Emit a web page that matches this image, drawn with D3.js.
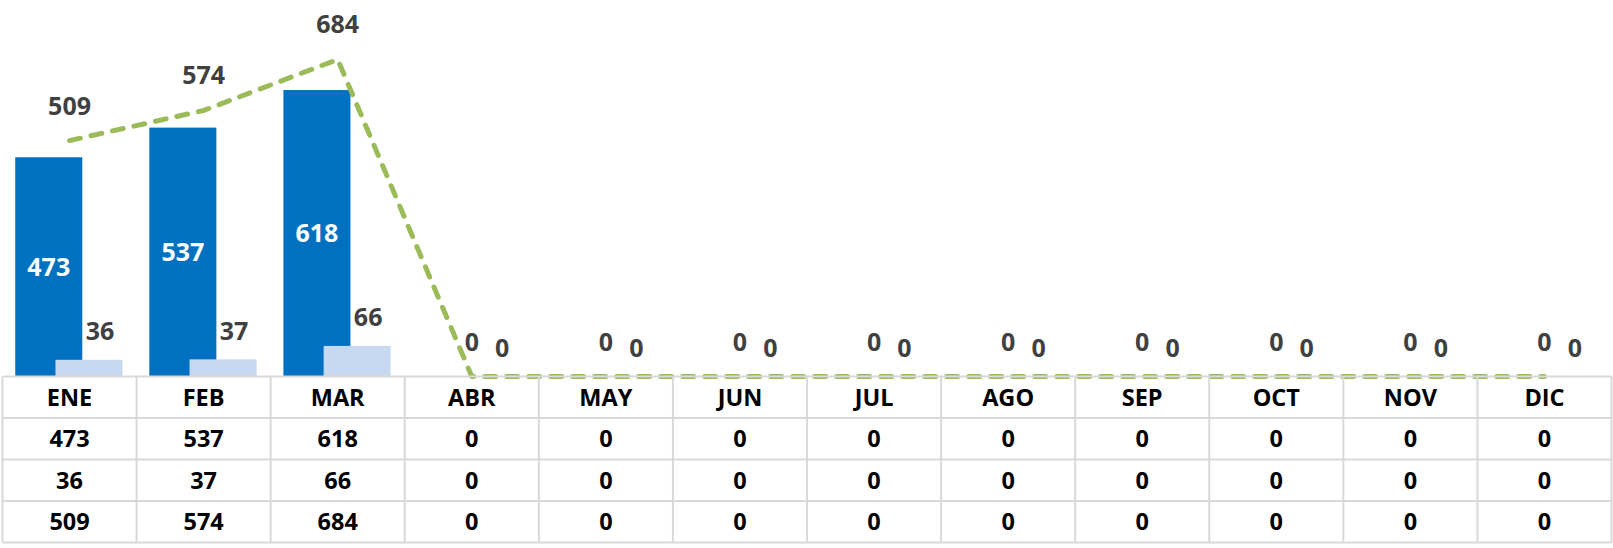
<!DOCTYPE html>
<html>
<head>
<meta charset="utf-8">
<script src="https://cdn.jsdelivr.net/npm/d3@7"></script>
<style>
  html, body { margin: 0; padding: 0; background: #fff; }
  svg { display: block; font-family: "Open Sans", Lato, sans-serif; font-weight: bold; }
</style>
</head>
<body>
<svg id="chart" width="1613" height="548"></svg>
<script>
const months = ["ENE","FEB","MAR","ABR","MAY","JUN","JUL","AGO","SEP","OCT","NOV","DIC"];
const seriesA = [473, 537, 618, 0, 0, 0, 0, 0, 0, 0, 0, 0];
const seriesB = [36, 37, 66, 0, 0, 0, 0, 0, 0, 0, 0, 0];
const totals  = [509, 574, 684, 0, 0, 0, 0, 0, 0, 0, 0, 0];

const svg = d3.select("#chart");
const baseY = 376.5;
const x = d3.scaleBand().domain(months).range([2.5, 1611.5]).padding(0);
const y = d3.scaleLinear().domain([0, 800]).range([baseY, baseY - 800 * 0.4635]);
const bw = x.bandwidth();

const colA = "#0070C0", colB = "#C6D9F0", colLine = "#9BBB59", labCol = "#404040";

// Bars series A
svg.append("g").selectAll("rect").data(months).join("rect")
  .attr("x", (d) => x(d) + bw * 0.095)
  .attr("width", bw * 0.5)
  .attr("y", (d, i) => y(seriesA[i]))
  .attr("height", (d, i) => baseY - y(seriesA[i]))
  .attr("fill", colA);

// Bars series B
svg.append("g").selectAll("rect").data(months).join("rect")
  .attr("x", (d) => x(d) + bw * 0.395)
  .attr("width", bw * 0.5)
  .attr("y", (d, i) => y(seriesB[i]))
  .attr("height", (d, i) => baseY - y(seriesB[i]))
  .attr("fill", colB);

// Line
const line = d3.line().x((d, i) => x(months[i]) + bw / 2).y((d) => y(d));
svg.append("path").datum(totals)
  .attr("d", line)
  .attr("fill", "none")
  .attr("stroke", colLine)
  .attr("stroke-width", 5)
  .attr("stroke-dasharray", "11,11")
  .attr("stroke-linecap", "round")
  .attr("stroke-linejoin", "round");

// Labels inside A bars (white)
svg.append("g").selectAll("text").data(months.filter((d, i) => seriesA[i] > 0)).join("text")
  .attr("x", (d) => x(d) + bw * 0.095 + bw * 0.25)
  .attr("y", (d) => { const i = months.indexOf(d); return (y(seriesA[i]) + baseY) / 2 + 9; })
  .attr("text-anchor", "middle")
  .attr("font-size", 25)
  .attr("fill", "#fff")
  .text((d) => seriesA[months.indexOf(d)]);

// Labels above B bars
svg.append("g").selectAll("text").data(months).join("text")
  .attr("x", (d) => x(d) + bw * 0.395 + bw * 0.25 + 11)
  .attr("y", (d, i) => y(seriesB[i]) - 19.5)
  .attr("text-anchor", "middle")
  .attr("font-size", 25)
  .attr("fill", labCol)
  .text((d, i) => seriesB[i]);

// Labels above line points
svg.append("g").selectAll("text").data(months).join("text")
  .attr("x", (d) => x(d) + bw / 2)
  .attr("y", (d, i) => y(totals[i]) - 26)
  .attr("text-anchor", "middle")
  .attr("font-size", 25)
  .attr("fill", labCol)
  .text((d, i) => totals[i]);

// Data table
const rows = [months, seriesA, seriesB, totals];
const rowH = 41.5;
const tbl = svg.append("g");
rows.forEach((r, ri) => {
  tbl.append("g").selectAll("text").data(r).join("text")
    .attr("x", (d, i) => x(months[i]) + bw / 2)
    .attr("y", baseY + ri * rowH + rowH / 2 + 8.5)
    .attr("text-anchor", "middle")
    .attr("font-size", 23.5)
    .attr("fill", "#000")
    .text((d) => d);
});
const grid = "#D9D9D9";
for (let ri = 0; ri <= rows.length; ri++) {
  tbl.append("line")
    .attr("x1", 2.5).attr("x2", 1611.5)
    .attr("y1", baseY + ri * rowH).attr("y2", baseY + ri * rowH)
    .attr("stroke", grid).attr("stroke-width", 2);
}
const edges = months.map((m) => x(m)).concat([x(months[months.length - 1]) + bw]);
tbl.append("g").selectAll("line").data(edges).join("line")
  .attr("x1", (d) => d).attr("x2", (d) => d)
  .attr("y1", baseY).attr("y2", baseY + rows.length * rowH)
  .attr("stroke", grid).attr("stroke-width", 2);
</script>
</body>
</html>
